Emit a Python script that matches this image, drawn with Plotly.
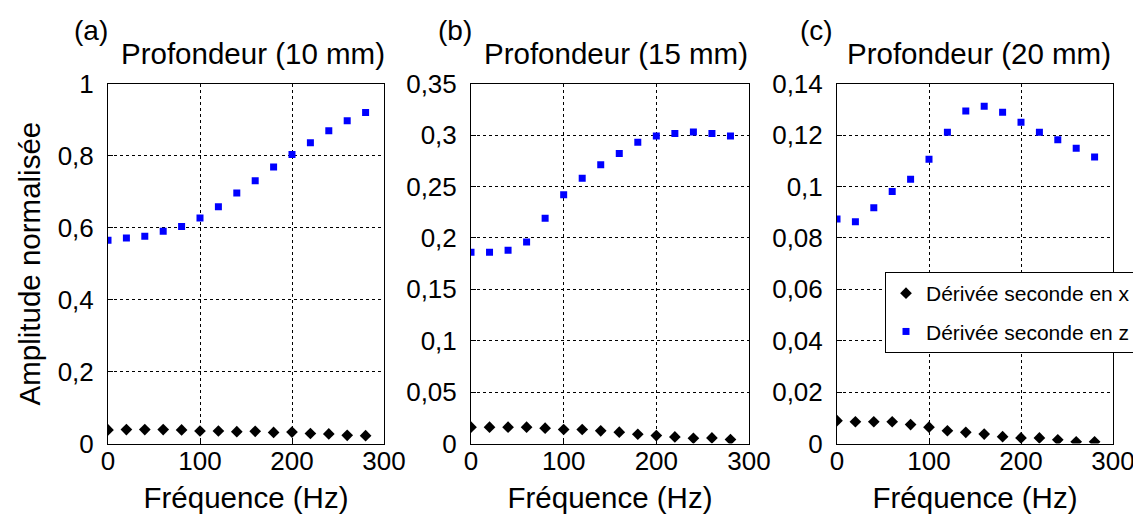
import plotly.graph_objects as go

W, H = 1141, 522

freq = [0, 20, 40, 60, 80, 100, 120, 140, 160, 180, 200, 220, 240, 260, 280]

# Panel (a) depth 10 mm
a_x = [0.038, 0.039, 0.039, 0.039, 0.038, 0.035, 0.035, 0.033, 0.034, 0.031, 0.032, 0.028, 0.027, 0.023, 0.022]
a_z = [0.565, 0.571, 0.576, 0.590, 0.603, 0.627, 0.658, 0.696, 0.730, 0.768, 0.803, 0.836, 0.869, 0.897, 0.920]
# Panel (b) depth 15 mm
b_x = [0.0160, 0.0160, 0.0160, 0.0160, 0.0150, 0.0137, 0.0137, 0.0124, 0.0111, 0.0091, 0.0078, 0.0065, 0.0052, 0.0055, 0.0040]
b_z = [0.186, 0.186, 0.188, 0.196, 0.219, 0.242, 0.258, 0.271, 0.282, 0.293, 0.299, 0.3015, 0.303, 0.3015, 0.299]
# Panel (c) depth 20 mm
c_x = [0.0089, 0.0085, 0.0085, 0.0085, 0.0074, 0.0064, 0.0050, 0.0044, 0.0037, 0.0027, 0.0022, 0.0022, 0.0015, 0.0007, 0.0007]
c_z = [0.0873, 0.0863, 0.0917, 0.0980, 0.1028, 0.1106, 0.1211, 0.1293, 0.1312, 0.1289, 0.1250, 0.1211, 0.1182, 0.1149, 0.1115]

panel_letters = ["(a)", "(b)", "(c)"]
panel_titles = ["Profondeur (10 mm)", "Profondeur (15 mm)", "Profondeur (20 mm)"]
series_names = ["Dérivée seconde en x", "Dérivée seconde en z"]
x_title = "Fréquence (Hz)"
y_title = "Amplitude normalisée"

x_ticks = [0, 100, 200, 300]
y_ticks = [
    [0, 0.2, 0.4, 0.6, 0.8, 1.0],
    [0, 0.05, 0.1, 0.15, 0.2, 0.25, 0.3, 0.35],
    [0, 0.02, 0.04, 0.06, 0.08, 0.1, 0.12, 0.14],
]
y_ranges = [[0, 1], [0, 0.35], [0, 0.14]]

data_x = [a_x, b_x, c_x]
data_z = [a_z, b_z, c_z]

FONT = "Liberation Sans, Arial, Helvetica, sans-serif"

def px(x):
    return x / W

def py(y):
    return 1 - y / H

# plot-area pixel boxes (left, right)
x_boxes = [(100, 376), (463, 741), (829, 1105)]
y_box = (75.6, 435.6)

def fmt(v):
    s = ("%g" % v)
    return s.replace(".", ",")

fig = go.Figure()

for i in range(3):
    sfx = "" if i == 0 else str(i + 1)
    fig.add_trace(go.Scatter(
        x=freq, y=data_x[i], mode="markers",
        marker=dict(symbol="diamond", size=9, color="black"),
        name=series_names[0], showlegend=(i == 2), legendgroup="dx",
        xaxis="x" + sfx, yaxis="y" + sfx,
    ))
    fig.add_trace(go.Scatter(
        x=freq, y=data_z[i], mode="markers",
        marker=dict(symbol="square", size=7, color="#0000ff"),
        name=series_names[1], showlegend=(i == 2), legendgroup="dz",
        xaxis="x" + sfx, yaxis="y" + sfx,
    ))

    xl, xr = x_boxes[i]
    common = dict(
        showline=True, linecolor="black", linewidth=1, mirror=True,
        showgrid=True, gridcolor="black", gridwidth=1, griddash="dot",
        ticks="inside", ticklen=5, tickcolor="black",
        tickfont=dict(family=FONT, size=26, color="black"),
        zeroline=False,
    )
    xa = dict(common)
    xa.update(
        domain=[px(xl), px(xr)], range=[0, 300], anchor="y" + sfx,
        tickvals=x_ticks, ticktext=[str(t) for t in x_ticks],
        ticklabelstandoff=-6,
        title=dict(text=x_title, font=dict(family=FONT, size=29.5, color="black"), standoff=12),
    )
    ya = dict(common)
    ya.update(
        domain=[py(y_box[1]), py(y_box[0])], range=y_ranges[i], anchor="x" + sfx,
        tickvals=y_ticks[i], ticktext=[fmt(t) for t in y_ticks[i]],
        ticklabelstandoff=8,
    )
    if i == 0:
        ya["title"] = dict(text=y_title, font=dict(family=FONT, size=29.5, color="black"), standoff=8)
    fig.layout["xaxis" + sfx] = xa
    fig.layout["yaxis" + sfx] = ya

annotations = []
title_cx = [245, 608, 971]
letter_cx = [83, 447, 808]
for i in range(3):
    annotations.append(dict(
        text=panel_titles[i], x=px(title_cx[i]), y=py(46), xref="paper", yref="paper",
        xanchor="center", yanchor="middle", showarrow=False,
        font=dict(family=FONT, size=29.5, color="black"),
    ))
    annotations.append(dict(
        text=panel_letters[i], x=px(letter_cx[i]), y=py(22), xref="paper", yref="paper",
        xanchor="center", yanchor="middle", showarrow=False,
        font=dict(family=FONT, size=28, color="black"),
    ))

fig.update_layout(
    width=W, height=H,
    margin=dict(l=0, r=0, t=0, b=0, autoexpand=False),
    paper_bgcolor="white", plot_bgcolor="white",
    annotations=annotations,
    showlegend=True,
    legend=dict(
        x=px(877), y=py(264), xanchor="left", yanchor="top",
        bgcolor="white", bordercolor="black", borderwidth=1,
        font=dict(family=FONT, size=21, color="black"),
        itemwidth=30, tracegroupgap=8,
    ),
)

fig.write_html("out.html")
